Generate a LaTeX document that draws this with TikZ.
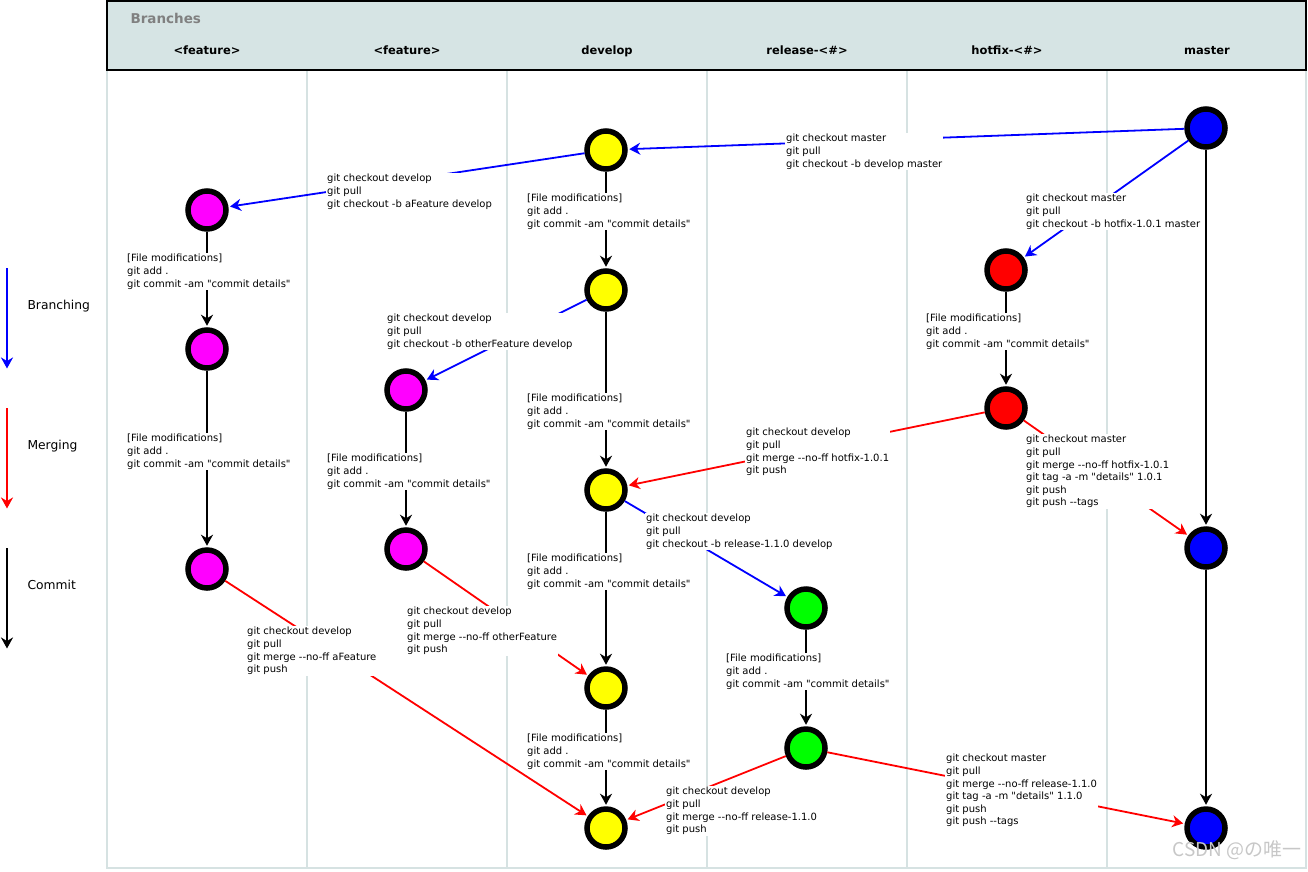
\documentclass[tikz,border=0pt]{standalone}
\usepackage{fontspec}
\setmainfont{DejaVu Sans}[Ligatures=TeXOff]
\newfontfamily\cjk{Noto Sans CJK SC}
\usetikzlibrary{arrows.meta}
\definecolor{hdr}{HTML}{D6E4E4}
\definecolor{sep}{HTML}{D6E2E2}
\definecolor{mag}{HTML}{FF00FF}
\definecolor{ylw}{HTML}{FFFF00}
\definecolor{grn}{HTML}{00FF00}
\definecolor{rd}{HTML}{FF0000}
\definecolor{bl}{HTML}{0000FF}
\tikzset{
  commitnode/.style={circle, draw=black, line width=5.5pt, minimum size=38pt, inner sep=0pt},
  lbl/.style={anchor=north west, fill=white, inner sep=1pt, font=\fontsize{10}{12.6}\selectfont, align=left},
  conn/.style={line width=1.8pt, shorten >=1.5pt, -{Stealth[length=11pt,width=12pt,inset=3.5pt]}},
  brnch/.style={conn, draw=bl, fill=bl},
  mrge/.style={conn, draw=rd, fill=rd},
  cmmt/.style={conn, draw=black, fill=black},
  colhead/.style={anchor=base, font=\fontsize{11.5}{13}\selectfont\bfseries},
  legtext/.style={anchor=west, font=\fontsize{12.3}{14}\selectfont}
}
\begin{document}
\begin{tikzpicture}[x=1pt,y=-1pt]
\useasboundingbox (0,0) rectangle (1308,871);
% body frame and lanes
\draw[sep, line width=2pt] (107,70) -- (107,868) -- (1306,868) -- (1306,70);
\foreach \x in {307,507,707,907,1107} \draw[sep, line width=2pt] (\x,70) -- (\x,868);
% header
\draw[black, line width=2pt, fill=hdr] (107,1) rectangle (1306,70);
\node[anchor=west, text=gray, font=\fontsize{13.5}{15}\selectfont\bfseries] (hb) at (127,18) {Branches};
\node[colhead] (h1) at (207,54.5) {<feature>};
\node[colhead] (h2) at (407,54.5) {<feature>};
\node[colhead] (h3) at (607,54.5) {develop};
\node[colhead] (h4) at (807,54.5) {release-<\#>};
\node[colhead] (h5) at (1007,54.5) {hotfix-<\#>};
\node[colhead] (h6) at (1207,54.5) {master};
% legend
\coordinate (lb1) at (7,268); \coordinate (lb2) at (7,370);
\coordinate (lm1) at (7,408); \coordinate (lm2) at (7,510);
\coordinate (lc1) at (7,548); \coordinate (lc2) at (7,650);
\draw[brnch] (lb1) -- (lb2);
\draw[mrge] (lm1) -- (lm2);
\draw[cmmt] (lc1) -- (lc2);
\node[legtext] (tb) at (24,306) {Branching};
\node[legtext] (tm) at (24,446) {Merging};
\node[legtext] (tc) at (24,585) {Commit};
% commits
\node[commitnode, fill=bl] (m1) at (1206,128) {};
\node[commitnode, fill=ylw] (d1) at (606,150) {};
\node[commitnode, fill=mag] (f1) at (207,210) {};
\node[commitnode, fill=ylw] (d2) at (606,290) {};
\node[commitnode, fill=rd] (x1) at (1006,270) {};
\node[commitnode, fill=mag] (f2) at (207,349) {};
\node[commitnode, fill=mag] (g1) at (406,390) {};
\node[commitnode, fill=rd] (x2) at (1006,408) {};
\node[commitnode, fill=ylw] (d3) at (606,490) {};
\node[commitnode, fill=bl] (m2) at (1206,548) {};
\node[commitnode, fill=mag] (g2) at (406,549) {};
\node[commitnode, fill=mag] (f3) at (207,569) {};
\node[commitnode, fill=grn] (r1) at (806,608) {};
\node[commitnode, fill=ylw] (d4) at (606,688) {};
\node[commitnode, fill=grn] (r2) at (806,748) {};
\node[commitnode, fill=ylw] (d5) at (606,828) {};
\node[commitnode, fill=bl] (m3) at (1206,828) {};
% connectors
\draw[brnch] (m1) -- (d1);
\draw[brnch] (d1) -- (f1);
\draw[brnch] (m1) -- (x1);
\draw[brnch] (d2) -- (g1);
\draw[brnch] (d3) -- (r1);
\draw[cmmt] (d1) -- (d2);
\draw[cmmt] (d2) -- (d3);
\draw[cmmt] (d3) -- (d4);
\draw[cmmt] (d4) -- (d5);
\draw[cmmt] (f1) -- (f2);
\draw[cmmt] (f2) -- (f3);
\draw[cmmt] (g1) -- (g2);
\draw[cmmt] (x1) -- (x2);
\draw[cmmt] (r1) -- (r2);
\draw[cmmt] (m1) -- (m2);
\draw[cmmt] (m2) -- (m3);
\draw[mrge] (x2) -- (d3);
\draw[mrge] (x2) -- (m2);
\draw[mrge] (g2) -- (d4);
\draw[mrge] (f3) -- (d5);
\draw[mrge] (r2) -- (d5);
\draw[mrge] (r2) -- (m3);
% labels
\node[lbl] (l1) at (785,133) {git checkout master\\git pull\\git checkout -b develop master};
\node[lbl] (l2) at (326,173) {git checkout develop\\git pull\\git checkout -b aFeature develop};
\node[lbl] (l3) at (1025,193) {git checkout master\\git pull\\git checkout -b hotfix-1.0.1 master};
\node[lbl] (l4) at (526,193) {[File modifications]\\git add .\\git commit -am "commit details"};
\node[lbl] (l5) at (386,313) {git checkout develop\\git pull\\git checkout -b otherFeature develop};
\node[lbl] (l6) at (126,253) {[File modifications]\\git add .\\git commit -am "commit details"};
\node[lbl] (l7) at (925,313) {[File modifications]\\git add .\\git commit -am "commit details"};
\node[lbl] (l8) at (526,393) {[File modifications]\\git add .\\git commit -am "commit details"};
\node[lbl] (l9) at (126,433) {[File modifications]\\git add .\\git commit -am "commit details"};
\node[lbl] (l10) at (326,453) {[File modifications]\\git add .\\git commit -am "commit details"};
\node[lbl] (l11) at (745,427) {git checkout develop\\git pull\\git merge --no-ff hotfix-1.0.1\\git push};
\node[lbl] (l12) at (1025,434) {git checkout master\\git pull\\git merge --no-ff hotfix-1.0.1\\git tag -a -m "details" 1.0.1\\git push\\git push --tags};
\node[lbl] (l13) at (645,513) {git checkout develop\\git pull\\git checkout -b release-1.1.0 develop};
\node[lbl] (l14) at (526,553) {[File modifications]\\git add .\\git commit -am "commit details"};
\node[lbl] (l15) at (725,653) {[File modifications]\\git add .\\git commit -am "commit details"};
\node[lbl] (l16) at (406,606) {git checkout develop\\git pull\\git merge --no-ff otherFeature\\git push};
\node[lbl] (l17) at (246,626) {git checkout develop\\git pull\\git merge --no-ff aFeature\\git push};
\node[lbl] (l18) at (526,733) {[File modifications]\\git add .\\git commit -am "commit details"};
\node[lbl] (l19) at (665,786) {git checkout develop\\git pull\\git merge --no-ff release-1.1.0\\git push};
\node[lbl] (l20) at (945,753) {git checkout master\\git pull\\git merge --no-ff release-1.1.0\\git tag -a -m "details" 1.1.0\\git push\\git push --tags};
% watermark
\node[anchor=east, text=black!22, font=\cjk\fontsize{19}{20}\selectfont] (wm) at (1305,850) {CSDN @の唯一};
\end{tikzpicture}
\end{document}
